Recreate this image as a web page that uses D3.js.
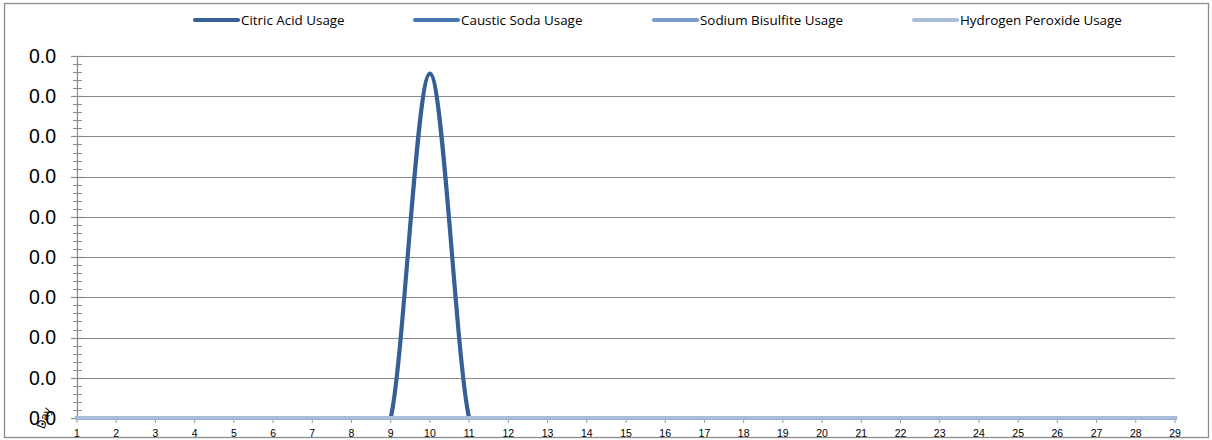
<!DOCTYPE html>
<html>
<head>
<meta charset="utf-8">
<script src="https://cdn.jsdelivr.net/npm/d3@7/dist/d3.min.js"></script>
<style>
  html, body { margin: 0; padding: 0; background: #fff; }
  svg { display: block; }
</style>
</head>
<body>
<svg id="chart" width="1212" height="440"></svg>
<script>
// Daily chemical usage over the month
const days = d3.range(1, 30);
const seriesNames = ["Citric Acid Usage", "Caustic Soda Usage", "Sodium Bisulfite Usage", "Hydrogen Peroxide Usage"];
const citricAcid = [0,0,0,0,0,0,0,0,0,0.0428,0,0,0,0,0,0,0,0,0,0,0,0,0,0,0,0,0,0,0];
const causticSoda = [0,0,0,0,0,0,0,0,0,0,0,0,0,0,0,0,0,0,0,0,0,0,0,0,0,0,0,0,0];
const sodiumBisulfite = [0,0,0,0,0,0,0,0,0,0,0,0,0,0,0,0,0,0,0,0,0,0,0,0,0,0,0,0,0];
const hydrogenPeroxide = [0,0,0,0,0,0,0,0,0,0,0,0,0,0,0,0,0,0,0,0,0,0,0,0,0,0,0,0,0];
const yTicks = [0, 0.005, 0.01, 0.015, 0.02, 0.025, 0.03, 0.035, 0.04, 0.045];
const yMinorStep = 0.001;
const axisTitle = "Day";

const colors = ["#355f95", "#4677b5", "#7b9bcd", "#a9bcda"];
const values = [citricAcid, causticSoda, sodiumBisulfite, hydrogenPeroxide];

const svg = d3.select("#chart");
const plot = { left: 77, right: 1175, top: 56, bottom: 418 };

const x = d3.scaleLinear().domain([1, 29]).range([plot.left, plot.right]);
const y = d3.scaleLinear().domain([0, 0.045]).range([plot.bottom, plot.top]);

// outer frame
svg.append("rect")
  .attr("x", 4.5).attr("y", 3.5).attr("width", 1204).attr("height", 434)
  .attr("fill", "none").attr("stroke", "#8c8c8c").attr("stroke-width", 1.3);

// horizontal gridlines
svg.append("g").selectAll("line").data(yTicks.slice(1)).join("line")
  .attr("x1", plot.left - 6).attr("x2", plot.right)
  .attr("y1", d => Math.round(y(d)) + 0.5).attr("y2", d => Math.round(y(d)) + 0.5)
  .attr("stroke", "#8a8a8a").attr("stroke-width", 1.2);

// y axis line with major and minor ticks
const yAxisG = svg.append("g");
yAxisG.append("line")
  .attr("x1", plot.left + 0.5).attr("x2", plot.left + 0.5)
  .attr("y1", plot.top).attr("y2", plot.bottom)
  .attr("stroke", "#8a8a8a").attr("stroke-width", 1.2);
const minorTicks = d3.range(0, 0.045 + 1e-9, yMinorStep);
yAxisG.selectAll("line.minor").data(minorTicks).join("line")
  .attr("class", "minor")
  .attr("x1", plot.left - 4).attr("x2", plot.left + 5)
  .attr("y1", d => Math.round(y(d)) + 0.5).attr("y2", d => Math.round(y(d)) + 0.5)
  .attr("stroke", "#8a8a8a").attr("stroke-width", 1);
yAxisG.selectAll("line.major").data(yTicks).join("line")
  .attr("class", "major")
  .attr("x1", plot.left - 6).attr("x2", plot.left + 7)
  .attr("y1", d => Math.round(y(d)) + 0.5).attr("y2", d => Math.round(y(d)) + 0.5)
  .attr("stroke", "#8a8a8a").attr("stroke-width", 1.2);

const fmt = d3.format(".1f");
yAxisG.selectAll("text").data(yTicks).join("text")
  .attr("x", 56).attr("y", d => y(d))
  .attr("dy", "0.35em")
  .attr("text-anchor", "end")
  .attr("font-family", "Liberation Sans, Arial, sans-serif")
  .attr("font-size", 19.5)
  .attr("fill", "#000")
  .text(d => fmt(d));

// category title squeezed over the zero label
svg.append("text")
  .attr("transform", `translate(44,${plot.bottom}) rotate(-70)`)
  .attr("text-anchor", "middle").attr("dy", "0.35em")
  .attr("font-family", "Liberation Sans, Arial, sans-serif")
  .attr("font-size", 12)
  .attr("fill", "#000")
  .text(axisTitle);

// x axis tick marks and labels
const xAxisG = svg.append("g");
xAxisG.selectAll("line").data(days).join("line")
  .attr("x1", d => x(d)).attr("x2", d => x(d))
  .attr("y1", plot.bottom + 2).attr("y2", plot.bottom + 5)
  .attr("stroke", "#9a9a9a").attr("stroke-width", 1);
xAxisG.selectAll("text").data(days).join("text")
  .attr("x", d => x(d)).attr("y", 433)
  .attr("dy", "0.35em")
  .attr("text-anchor", "middle")
  .attr("font-family", "Liberation Sans, Arial, sans-serif")
  .attr("font-size", 10.5)
  .attr("fill", "#000")
  .text(d => d);

// series lines, clipped to the plot area
svg.append("clipPath").attr("id", "plotClip")
  .append("rect")
  .attr("x", plot.left - 3).attr("y", plot.top - 4)
  .attr("width", plot.right - plot.left + 8).attr("height", plot.bottom - plot.top + 5.8);

const line = d3.line()
  .x((d, i) => x(days[i]))
  .y(d => y(d))
  .curve(d3.curveCardinal.tension(0));

const seriesG = svg.append("g").attr("clip-path", "url(#plotClip)");
seriesG.selectAll("path").data(values).join("path")
  .attr("d", d => line(d))
  .attr("fill", "none")
  .attr("stroke", (d, i) => colors[i])
  .attr("stroke-width", 4.2)
  .attr("stroke-linecap", "round")
  .attr("stroke-linejoin", "round");

// legend
const legendX = [193, 413, 652, 912];
const legend = svg.append("g");
seriesNames.forEach((name, i) => {
  const g = legend.append("g").attr("transform", `translate(${legendX[i]},20)`);
  g.append("line")
    .attr("x1", 2).attr("x2", 45).attr("y1", 0).attr("y2", 0)
    .attr("stroke", colors[i]).attr("stroke-width", 4.2)
    .attr("stroke-linecap", "round");
  g.append("text")
    .attr("x", 48).attr("y", 0).attr("dy", "0.35em")
    .attr("font-family", "Open Sans, Noto Sans, sans-serif")
    .attr("font-size", 13.4)
    .attr("fill", "#000")
    .text(name);
});
</script>
</body>
</html>
